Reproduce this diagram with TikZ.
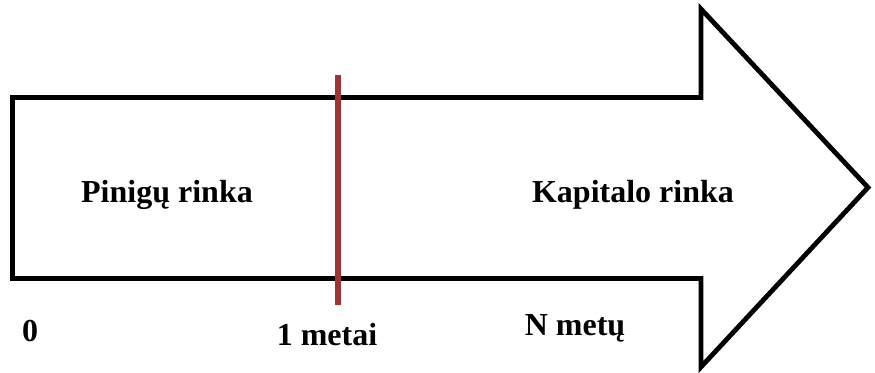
\documentclass[tikz,border=0pt]{standalone}
\usepackage{fontspec}
\setmainfont{Liberation Serif}
\definecolor{bar}{RGB}{160,52,52}
\begin{document}
\begin{tikzpicture}[x=0.75pt,y=-0.75pt,
  lbl/.style={font=\fontsize{24}{28}\selectfont\bfseries,anchor=base,inner sep=0pt},
  outline/.style={draw=black,line width=3.6pt,line join=miter}]
\useasboundingbox (0,0) rectangle (875,373);
\coordinate (a1) at (12.5,97.5);
\coordinate (a2) at (701,97.5);
\coordinate (a3) at (701,9);
\coordinate (a4) at (868,187.5);
\coordinate (a5) at (701,367);
\coordinate (a6) at (701,278.5);
\coordinate (a7) at (12.5,278.5);
\draw[outline] (a1) -- (a2) -- (a3) -- (a4) -- (a5) -- (a6) -- (a7) -- cycle;
\coordinate (r1) at (338,75);
\coordinate (r2) at (338,305);
\draw[bar,line width=4.5pt] (r1) -- (r2);
\node[lbl] (p) at (167,203) {Pinigų rinka};
\node[lbl] (k) at (633,203) {Kapitalo rinka};
\node[lbl] (z) at (30,342) {0};
\node[lbl] (m) at (327,346) {1 metai};
\node[lbl] (n) at (575,336) {N metų};
\end{tikzpicture}
\end{document}
